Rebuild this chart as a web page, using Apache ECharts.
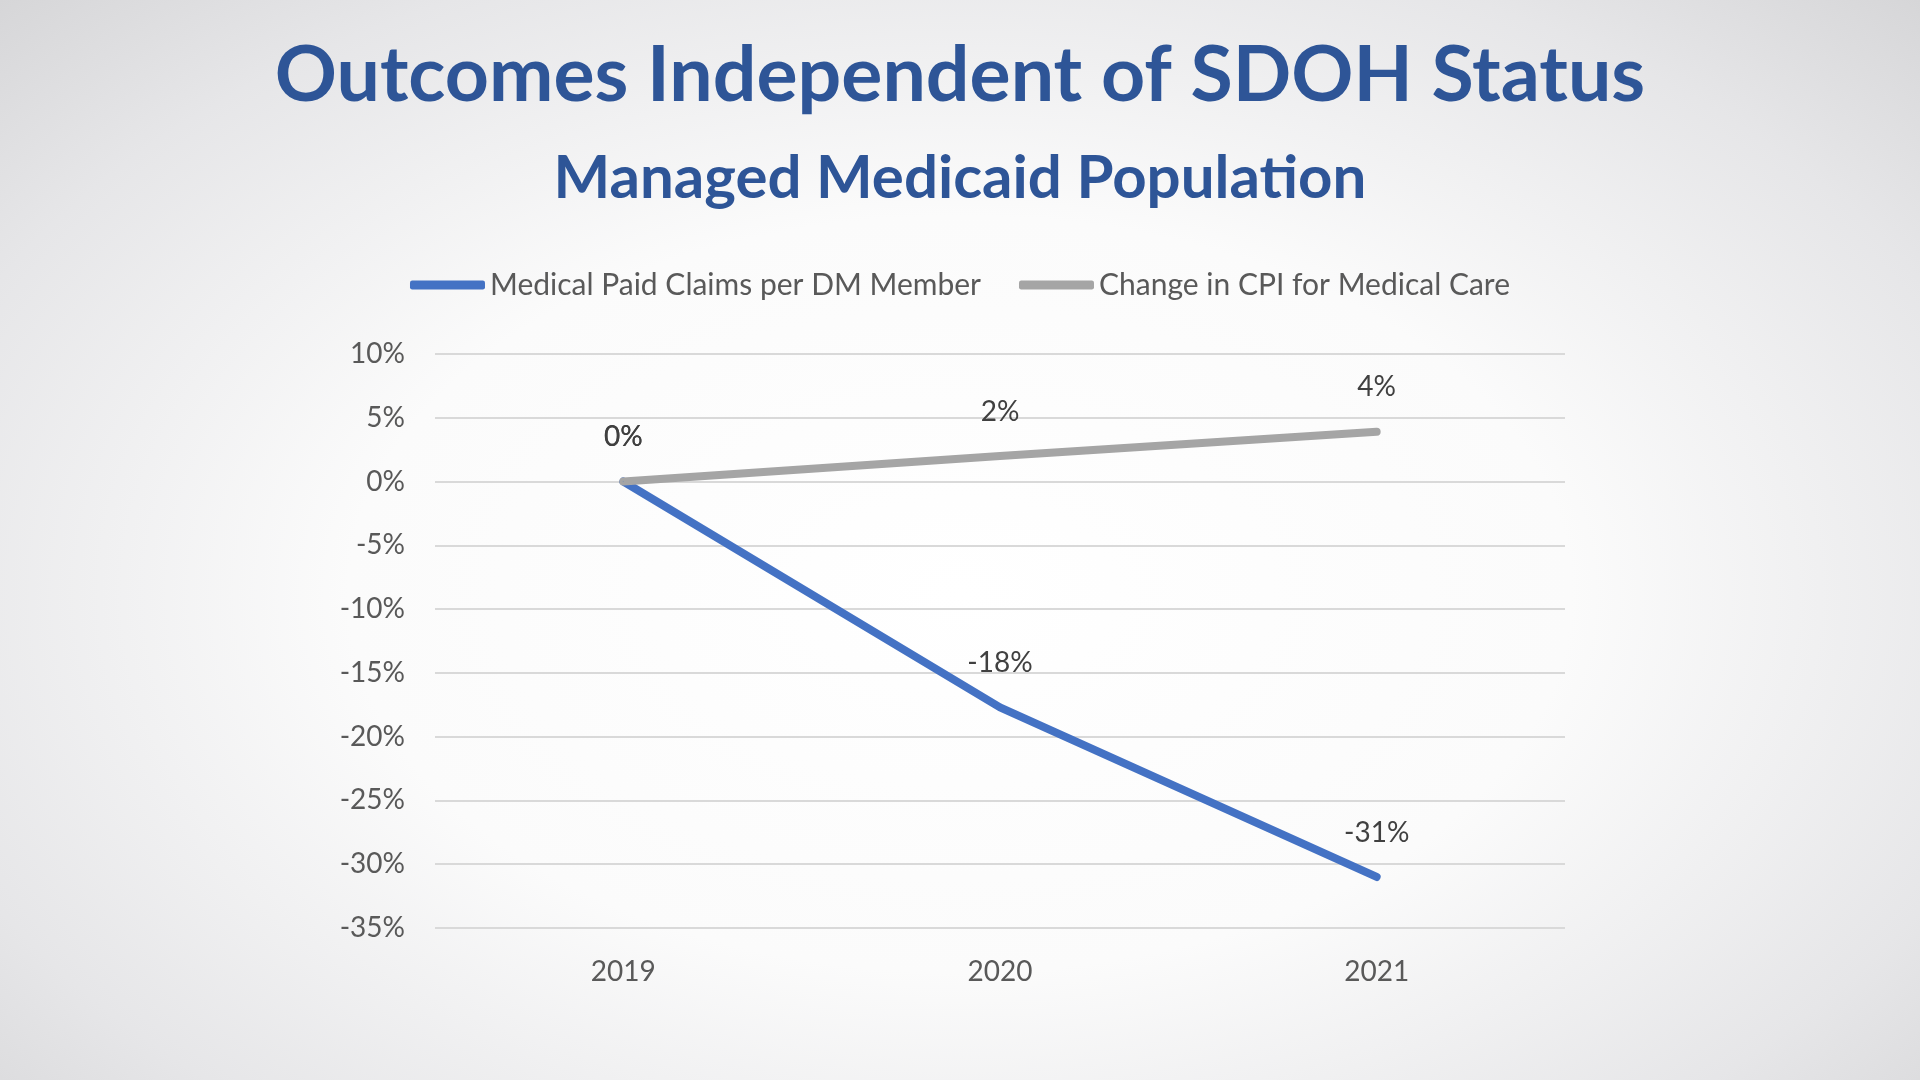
<!DOCTYPE html>
<html>
<head>
<meta charset="utf-8">
<title>Outcomes Independent of SDOH Status</title>
<script src="https://cdn.jsdelivr.net/npm/echarts@6/dist/echarts.min.js"></script>
<style>
    html, body { margin: 0; padding: 0; width: 100%; height: 100%; }
    body {
        background: radial-gradient(ellipse at 50% 55%, #ffffff 0%, #fbfbfb 45%, #e6e6e8 80%, #d6d6d8 100%);
    }
    #main { width: 1920px; height: 1080px; }
</style>
</head>
<body>
<div id="main"></div>
<script>
let years = ['2019', '2020', '2021']
let claimsPerMember = [0, -17.7, -31]
let cpiMedical = [0, 2, 3.9]
let seriesNames = ['Medical Paid Claims per DM Member', 'Change in CPI for Medical Care']

let chartFont = 'Lato'
let textGray = '#595959'

var myChart = echarts.init(document.getElementById('main'))

function lineSeries(name, data, color) {
    return {
        name: name,
        type: 'line',
        data: data,
        symbol: 'circle',
        symbolSize: 1,
        itemStyle: { color: color },
        lineStyle: { color: color, width: 8, cap: 'round', join: 'round' },
        label: {
            show: true,
            position: 'top',
            distance: 30,
            color: '#404040',
            fontFamily: chartFont,
            fontSize: 28,
            formatter: p => Math.round(p.value) + '%'
        },
        emphasis: { disabled: true }
    }
}

let option = {
    backgroundColor: 'transparent',
    animation: false,
    title: [
        {
            text: 'Outcomes Independent of SDOH Status',
            left: 'center',
            top: 31,
            textStyle: { color: '#2E5597', fontFamily: 'Lato', fontWeight: 'bold', fontSize: 77, lineHeight: 80 }
        },
        {
            text: 'Managed Medicaid Population',
            left: 'center',
            top: 143,
            textStyle: { color: '#2E5597', fontFamily: 'Lato', fontWeight: 'bold', fontSize: 60, lineHeight: 62 }
        }
    ],
    legend: {
        top: 265,
        left: 'center',
        icon: 'roundRect',
        itemWidth: 75,
        itemHeight: 9,
        itemGap: 38,
        textStyle: { color: textGray, fontFamily: chartFont, fontSize: 30, padding: [0, 0, 0, 0] },
        data: seriesNames
    },
    grid: { left: 435, right: 355, top: 354, bottom: 152, containLabel: false },
    xAxis: {
        type: 'category',
        data: years,
        boundaryGap: true,
        axisLine: { show: false },
        axisTick: { show: false },
        axisLabel: { color: textGray, fontFamily: chartFont, fontSize: 28, margin: 30 }
    },
    yAxis: {
        type: 'value',
        min: -35,
        max: 10,
        interval: 5,
        axisLine: { show: false },
        axisTick: { show: false },
        axisLabel: { color: textGray, fontFamily: chartFont, fontSize: 28, margin: 30, formatter: '{value}%' },
        splitLine: { lineStyle: { color: '#d9d9d9', width: 2 } }
    },
    series: [
        lineSeries(seriesNames[0], claimsPerMember, '#4472C4'),
        lineSeries(seriesNames[1], cpiMedical, '#A5A5A5')
    ]
}

myChart.setOption(option)
</script>
</body>
</html>
